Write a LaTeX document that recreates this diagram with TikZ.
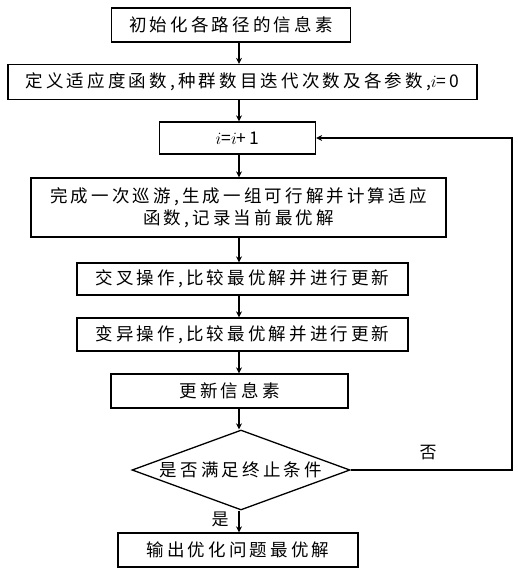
\documentclass[tikz,border=0pt]{standalone}
\usepackage{fontspec}
\setmainfont{Noto Sans CJK SC}[LetterSpace=18]
\usetikzlibrary{arrows.meta,shapes.geometric}
\begin{document}
\begin{tikzpicture}[x=1pt,y=-1pt,
  box/.style={draw,line width=1.3pt,rectangle,inner sep=0pt,font=\fontsize{17.5}{22}\selectfont,align=center},
  conn/.style={line width=1.3pt,-{Stealth[length=6pt,width=6pt]}},
  lbl/.style={font=\fontsize{17}{20}\selectfont}]
\useasboundingbox (0,0) rectangle (517,573);
\node[box,minimum width=239pt,minimum height=34pt] (b1) at (231,25) {初始化各路径的信息素};
\node[box,minimum width=469pt,minimum height=35pt] (b2) at (242.5,82) {定义适应度函数,种群数目迭代次数及各参数,$i$=0};
\node[box,minimum width=156pt,minimum height=32pt] (b3) at (237.5,138) {$i$=$i$+1};
\node[box,minimum width=415pt,minimum height=59pt] (b4) at (238.5,207.5) {完成一次巡游,生成一组可行解并计算适应\\函数,记录当前最优解};
\node[box,minimum width=331pt,minimum height=32pt] (b5) at (242.5,279) {交叉操作,比较最优解并进行更新};
\node[box,minimum width=331pt,minimum height=33pt] (b6) at (242.5,334.5) {变异操作,比较最优解并进行更新};
\node[box,minimum width=237pt,minimum height=34pt] (b7) at (229.5,391) {更新信息素};
\node[draw,line width=1.3pt,diamond,aspect=2.72,minimum width=218pt,minimum height=80pt,inner sep=0pt,font=\fontsize{17.5}{22}\selectfont] (d) at (241,470) {是否满足终止条件};
\node[box,minimum width=240pt,minimum height=34pt] (b9) at (238,550) {输出优化问题最优解};
\coordinate (ax) at (239,0);
\coordinate (rt) at (512,0);
\draw[conn] (b1.south -| ax) -- (b2.north -| ax);
\draw[conn] (b2.south -| ax) -- (b3.north -| ax);
\draw[conn] (b3.south -| ax) -- (b4.north -| ax);
\draw[conn] (b4.south -| ax) -- (b5.north -| ax);
\draw[conn] (b5.south -| ax) -- (b6.north -| ax);
\draw[conn] (b6.south -| ax) -- (b7.north -| ax);
\draw[conn] (b7.south -| ax) -- (d.north -| ax);
\draw[conn] (d.south -| ax) -- (b9.north -| ax);
\draw[conn] (d.east) -- (d.east -| rt) -- (b3.east -| rt) -- (b3.east);
\node[lbl] (no) at (428,453) {否};
\node[lbl] (yes) at (220,519) {是};
\end{tikzpicture}
\end{document}
